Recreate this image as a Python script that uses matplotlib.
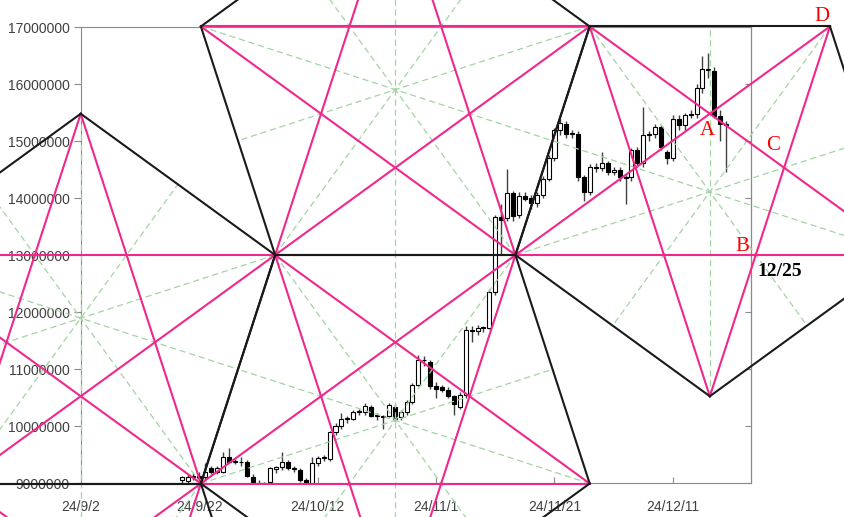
import numpy as np
import matplotlib.pyplot as plt

# daily candles, day 0 = 2024-09-02, prices in million JPY
days = list(range(17, 110))
opens = [9.05, 9.03, 9.10, 9.12, 9.10, 9.26, 9.20, 9.20, 9.46, 9.37,
         9.37, 9.37, 9.10, 9.00, 8.85, 9.02, 9.24, 9.28, 9.37, 9.25,
         9.23, 9.05, 9.00, 9.35, 9.44, 9.42, 9.90, 10.00, 10.13, 10.13,
         10.25, 10.25, 10.34, 10.18, 10.18, 10.18, 10.34, 10.15, 10.25, 10.42,
         10.72, 11.16, 11.12, 10.71, 10.68, 10.64, 10.52, 10.34, 10.55, 11.69,
         11.66, 11.72, 11.72, 12.35, 13.67, 13.65, 14.08, 13.70, 14.04, 14.00,
         13.92, 14.05, 14.34, 14.70, 15.19, 15.30, 15.13, 15.13, 14.37, 14.11,
         14.54, 14.52, 14.62, 14.45, 14.50, 14.36, 14.36, 14.84, 14.61, 15.10,
         15.12, 15.25, 14.80, 14.70, 15.38, 15.28, 15.46, 15.48, 15.93, 16.26,
         16.22, 15.44, 15.30]
highs = [9.12, 9.15, 9.18, 9.20, 9.35, 9.30, 9.30, 9.55, 9.61, 9.42,
         9.45, 9.40, 9.15, 9.05, 9.02, 9.28, 9.30, 9.55, 9.40, 9.30,
         9.27, 9.08, 9.45, 9.48, 9.50, 9.92, 10.05, 10.22, 10.18, 10.28,
         10.30, 10.40, 10.36, 10.22, 10.20, 10.40, 10.38, 10.28, 10.45, 10.75,
         11.25, 11.22, 11.15, 10.78, 10.72, 10.68, 10.55, 10.60, 11.75, 11.75,
         11.78, 11.76, 12.40, 13.70, 13.90, 14.51, 14.12, 14.10, 14.10, 14.05,
         14.10, 14.38, 14.75, 15.22, 15.38, 15.35, 15.20, 15.18, 14.40, 14.60,
         14.62, 14.80, 14.65, 14.55, 14.55, 14.40, 14.88, 14.90, 15.60, 15.18,
         15.30, 15.28, 14.85, 15.45, 15.45, 15.50, 15.55, 16.00, 16.50, 16.55,
         16.30, 15.55, 15.35]
lows = [9.00, 9.00, 9.05, 9.05, 9.05, 9.15, 9.15, 9.18, 9.35, 9.33,
        9.30, 9.10, 8.95, 8.80, 8.80, 8.98, 9.18, 9.22, 9.22, 9.20,
        9.02, 8.95, 8.98, 9.30, 9.38, 9.38, 9.85, 9.95, 10.05, 10.10,
        10.20, 10.20, 10.15, 10.10, 9.95, 10.15, 10.08, 10.10, 10.20, 10.38,
        10.70, 11.05, 10.65, 10.50, 10.60, 10.50, 10.20, 10.30, 10.50, 11.48,
        11.60, 11.65, 11.70, 12.30, 13.00, 13.60, 13.60, 13.65, 13.95, 13.80,
        13.85, 14.00, 14.30, 14.65, 15.10, 15.05, 15.05, 14.30, 13.95, 14.05,
        14.45, 14.48, 14.40, 14.40, 14.30, 13.90, 14.30, 14.55, 14.55, 15.00,
        15.05, 14.85, 14.60, 14.65, 15.20, 15.20, 15.40, 15.40, 15.85, 16.10,
        15.40, 15.00, 14.45]
closes = [9.10, 9.11, 9.12, 9.08, 9.20, 9.20, 9.26, 9.46, 9.37, 9.38,
          9.36, 9.12, 9.02, 8.85, 9.00, 9.26, 9.28, 9.37, 9.26, 9.24,
          9.05, 9.00, 9.35, 9.44, 9.45, 9.90, 10.00, 10.13, 10.14, 10.25,
          10.26, 10.35, 10.18, 10.17, 10.15, 10.36, 10.13, 10.25, 10.42, 10.72,
          11.16, 11.15, 10.71, 10.65, 10.64, 10.53, 10.39, 10.55, 11.69, 11.66,
          11.72, 11.73, 12.35, 13.67, 13.62, 14.08, 13.68, 14.04, 13.99, 13.92,
          14.05, 14.34, 14.70, 15.19, 15.32, 15.13, 15.12, 14.37, 14.11, 14.54,
          14.52, 14.62, 14.45, 14.50, 14.36, 14.35, 14.84, 14.61, 15.10, 15.12,
          15.25, 14.90, 14.70, 15.38, 15.28, 15.46, 15.48, 15.93, 16.26, 16.24,
          15.44, 15.30, 15.28]

x_ticks = [0, 20, 40, 60, 80, 100]
x_labels = ['24/9/2', '24/9/22', '24/10/12', '24/11/1', '24/11/21', '24/12/11']
y_ticks = list(range(9000000, 17000001, 1000000))

# base edge of the first pentagon (day, price)
base_left = (32.8, 13000000)
base_right = (73.4, 13000000)

pink = '#F0288C'
grey = '#8a8a8a'

fig = plt.figure(figsize=(8.45, 5.17), dpi=100)
ax = fig.add_axes([81/845, 34/517, 670/845, 456/517])
ax.set_xlim(0, 113.2)
ax.set_ylim(9000000, 17000000)

# candles
o = np.array(opens) * 1e6
c = np.array(closes) * 1e6
h = np.array(highs) * 1e6
l = np.array(lows) * 1e6
up = c >= o
ax.vlines(days, l, h, color='#404040', lw=1, zorder=3)
body = np.maximum(np.abs(c - o), 15000)
ax.bar(days, body, bottom=np.minimum(o, c), width=0.68,
       color=np.where(up, 'white', 'black'), edgecolor='black', lw=0.8, zorder=3)

# pentagon overlay, built in pixel space so it stays regular on screen
to_px = ax.transData.transform
to_data = ax.transData.inverted().transform


def pentagon(a, b):
    t = np.radians(72)
    rot = np.array([[np.cos(t), -np.sin(t)], [np.sin(t), np.cos(t)]])
    pts = [a, b]
    for _ in range(3):
        pts.append(pts[-1] + rot @ (pts[-1] - pts[-2]))
    return np.array(pts)


def reflect(pts, a, b):
    d = (b - a) / np.linalg.norm(b - a)
    v = pts - a
    return a + 2 * np.outer(v @ d, d) - v


def meet(p1, p2, p3, p4):
    d1, d2 = p2 - p1, p4 - p3
    s = np.linalg.solve(np.column_stack([d1, -d2]), p3 - p1)[0]
    return p1 + s * d1


p1 = pentagon(to_px(base_left), to_px(base_right))
p3 = reflect(p1, p1[0], p1[1])
p4 = reflect(p1, p1[1], p1[2])
p2 = reflect(p3, p3[0], p3[4])
p5 = reflect(p2, p2[4], p2[3])


def seg(a, b, **kw):
    pts = to_data(np.array([a, b]))
    ax.plot(pts[:, 0], pts[:, 1], clip_on=False, **kw)


for pg in [p1, p2, p3, p4, p5]:
    for i in range(5):
        mid = (pg[(i + 2) % 5] + pg[(i + 3) % 5]) / 2
        seg(pg[i], mid, color='#a3d4a3', lw=0.9, dashes=(5, 3), zorder=4)
    for i in range(5):
        seg(pg[i], pg[(i + 2) % 5], color=pink, lw=1.5, zorder=5)
    for i in range(5):
        seg(pg[i], pg[(i + 1) % 5], color='#1a1a1a', lw=1.5, zorder=6)

# labelled points
pt_a = meet(p4[2], p4[4], p4[3], p4[1])
pt_b = meet(p4[3], p4[0], p4[1], p4[4])
pt_c = meet(p4[2], p4[4], p4[3], p4[0])
pt_d = p4[3]
lab = dict(color='red', fontsize=15, family='Liberation Serif',
           textcoords='offset pixels', ha='center', va='center',
           annotation_clip=False, zorder=7)
ax.annotate('A', to_data(pt_a), xytext=(-2, -17), **lab)
ax.annotate('B', to_data(pt_b), xytext=(-13, 9), **lab)
ax.annotate('C', to_data(pt_c), xytext=(-11, 22), **lab)
ax.annotate('D', to_data(pt_d), xytext=(-8, 10), **lab)
ax.annotate('12/25', to_data(pt_b), xytext=(2, -16), textcoords='offset pixels',
            ha='left', va='center', fontsize=14, fontweight='bold',
            family='Liberation Serif', annotation_clip=False, zorder=7)

# axes styling
ax.set_xticks(x_ticks)
ax.set_xticklabels(x_labels)
ax.set_yticks(y_ticks)
ax.set_yticklabels([str(v) for v in y_ticks])
for lbl in ax.get_xticklabels() + ax.get_yticklabels():
    lbl.set_family('Liberation Sans')
    lbl.set_fontsize(10)
    lbl.set_color('#404040')
ax.tick_params(axis='x', direction='in', length=4, pad=12, color=grey)
ax.tick_params(axis='y', direction='out', length=5, pad=3, color=grey)
for s in ax.spines.values():
    s.set_color(grey)
sec = ax.secondary_yaxis('right')
sec.set_yticks(y_ticks)
sec.tick_params(direction='in', length=4, labelright=False, color=grey)
sec.spines['right'].set_color('#555555')

plt.savefig('out.png', dpi=100)
